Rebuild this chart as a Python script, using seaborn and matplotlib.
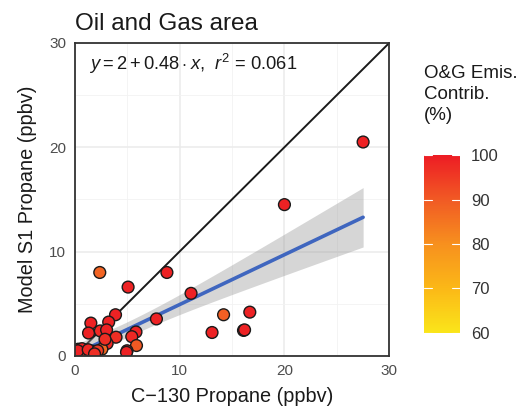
import numpy as np
import pandas as pd
import matplotlib
matplotlib.use("Agg")
import matplotlib.pyplot as plt
import seaborn as sns
from matplotlib.colors import LinearSegmentedColormap, Normalize
from matplotlib.ticker import MultipleLocator

# data (many points overlap near the origin)
x_c130 = [27.5, 20.0, 8.8, 2.4, 5.1, 11.1, 3.9, 7.8, 14.2, 16.7, 13.1, 16.1, 16.2,
          1.55, 3.25, 1.33, 2.45, 3.05, 3.95, 3.1, 5.85, 5.45, 5.9, 5.0, 2.6,
          0.35, 0.8, 0.5, 1.4, 1.8, 2.05, 0.1, 1.1, 2.9, 4.95,
          0.2, 0.6, 0.9, 1.2, 0.4, 1.6, 0.7, 1.0, 0.3, 1.3, 2.2, 1.9]
y_model = [20.5, 14.5, 8.0, 8.0, 6.6, 6.0, 3.95, 3.55, 3.95, 4.2, 2.25, 2.45, 2.5,
           3.15, 3.25, 2.2, 2.4, 2.5, 1.8, 1.2, 2.3, 1.85, 1.0, 0.5, 0.65,
           0.65, 0.55, 0.25, 0.2, 0.45, 0.35, 0.4, 0.3, 1.6, 0.35,
           0.3, 0.4, 0.2, 0.5, 0.1, 0.3, 0.7, 0.1, 0.5, 0.6, 0.5, 0.2]
og_pct = [99, 99, 99, 88, 99, 99, 99, 99, 89, 99, 99, 99, 99,
          99, 99, 99, 98, 99, 97, 98, 99, 98, 90, 99, 87,
          99, 98, 99, 84, 98, 97, 99, 98, 97, 99,
          99, 98, 97, 99, 98, 96, 99, 97, 99, 98, 95, 97]

title = "Oil and Gas area"
eq_label = r"$y = 2 + 0.48 \cdot x$,  $r^2$ = 0.061"
cbar_ticks = [60, 70, 80, 90, 100]

df = pd.DataFrame({"x": x_c130, "y": y_model, "og": og_pct})

sns.set_style("white")
plt.rcParams["font.family"] = ["Liberation Sans", "DejaVu Sans"]
plt.rcParams["mathtext.fontset"] = "custom"
plt.rcParams["mathtext.rm"] = "Liberation Sans"
plt.rcParams["mathtext.it"] = "Liberation Sans:italic"

cmap = LinearSegmentedColormap.from_list(
    "og", ["#FAE51A", "#FBB817", "#F7901E", "#F15A24", "#ED1C24"])
norm = Normalize(60, 100)

fig = plt.figure(figsize=(5.29, 4.08), dpi=100)
ax = fig.add_axes([0.141, 0.1275, 0.595, 0.7675])

# 1:1 line
ax.plot([0, 30], [0, 30], color="#1a1a1a", lw=1.4, zorder=2)

# linear fit with analytic 95% band (like geom_smooth(method="lm"))
x = df["x"].to_numpy()
y = df["y"].to_numpy()
n = len(x)
slope, icpt = np.polyfit(x, y, 1)
resid = y - (icpt + slope * x)
s = np.sqrt(np.sum(resid ** 2) / (n - 2))
xg = np.linspace(x.min(), x.max(), 100)
se = s * np.sqrt(1 / n + (xg - x.mean()) ** 2 / np.sum((x - x.mean()) ** 2))
yg = icpt + slope * xg
ax.fill_between(xg, yg - 2.014 * se, yg + 2.014 * se, color="#999999",
                alpha=0.4, lw=0, zorder=2.5)
sns.regplot(data=df, x="x", y="y", scatter=False, ci=None, ax=ax,
            line_kws={"color": "#3F66BF", "lw": 2.6, "zorder": 3})

sns.scatterplot(data=df, x="x", y="y", hue="og", palette=cmap, hue_norm=norm,
                s=72, edgecolor="#1a1a1a", linewidth=1.0, legend=False,
                ax=ax, zorder=4)

ax.set_xlim(0, 30)
ax.set_ylim(0, 30)
ax.xaxis.set_major_locator(MultipleLocator(10))
ax.yaxis.set_major_locator(MultipleLocator(10))
ax.xaxis.set_minor_locator(MultipleLocator(5))
ax.yaxis.set_minor_locator(MultipleLocator(5))
ax.grid(which="major", color="#EBEBEB", lw=1.1, zorder=0)
ax.grid(which="minor", color="#F2F2F2", lw=0.6, zorder=0)
ax.set_axisbelow(True)
for sp in ax.spines.values():
    sp.set_color("#333333")
    sp.set_linewidth(1.3)
    sp.set_zorder(5)
ax.tick_params(which="major", length=4, width=1.1, color="#333333",
               labelsize=11, labelcolor="#4D4D4D", pad=2, direction="out")
ax.tick_params(which="minor", length=0)

ax.set_xlabel("C\u2212130 Propane (ppbv)", fontsize=14.3, color="#1a1a1a", labelpad=6)
ax.set_ylabel("Model S1 Propane (ppbv)", fontsize=14.3, color="#1a1a1a", labelpad=9)
ax.set_title(title, loc="left", fontsize=17.5, color="#1a1a1a", pad=9)

ax.text(1.4, 28.0, eq_label, fontsize=13.2, color="#1a1a1a", va="center", ha="left")

# colorbar legend
cax = fig.add_axes([0.8015, 0.184, 0.068, 0.436])
sm = plt.cm.ScalarMappable(cmap=cmap, norm=norm)
cb = fig.colorbar(sm, cax=cax, ticks=cbar_ticks)
cb.outline.set_visible(False)
cax.tick_params(length=0, labelsize=12, labelcolor="#333333", pad=8)
for t in cbar_ticks:
    cax.plot([0, 0.22], [t, t], color="white", lw=0.8, transform=cax.get_yaxis_transform())
    cax.plot([0.78, 1], [t, t], color="white", lw=0.8, transform=cax.get_yaxis_transform())
fig.text(0.8015, 0.84, "O&G Emis.\nContrib.\n(%)", fontsize=13.5, color="#1a1a1a",
         ha="left", va="top", linespacing=1.3)

fig.savefig("out.png", dpi=100)
